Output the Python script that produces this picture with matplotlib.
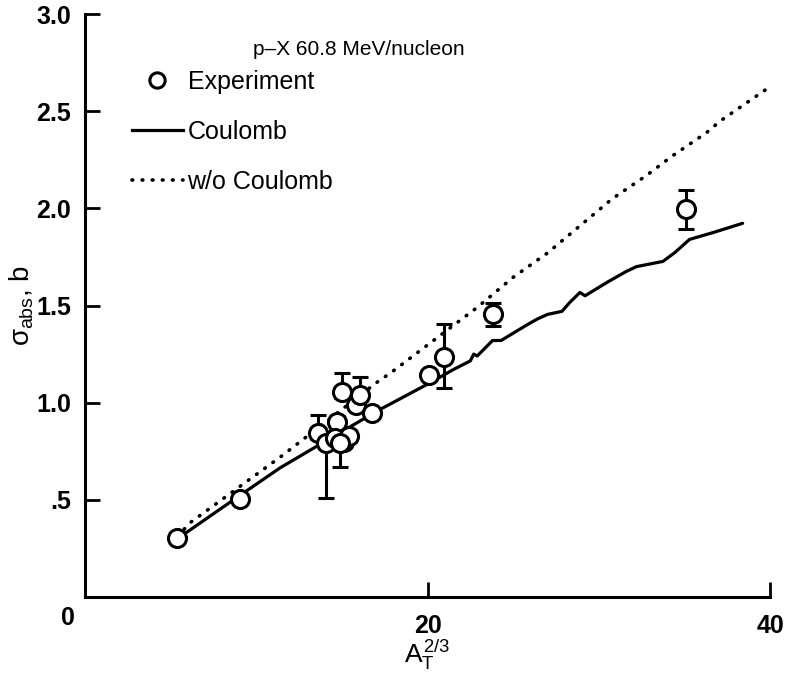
import numpy as np
import matplotlib
matplotlib.use("Agg")
import matplotlib.pyplot as plt
from matplotlib.lines import Line2D

# -----------------------------
# Data
# -----------------------------
exp_x = [5.37, 9.05, 13.6, 14.1, 14.7, 15.0, 15.8, 16.06, 16.76,
         14.6, 15.1, 15.4, 14.9, 20.1, 20.96, 23.8, 35.1]
exp_y = [0.305, 0.505, 0.845, 0.79, 0.90, 1.055, 0.99, 1.04, 0.948,
         0.82, 0.80, 0.83, 0.79, 1.14, 1.237, 1.455, 1.995]
err_lo = [0.02, 0.02, 0.03, 0.28, 0.03, 0.03, 0.03, 0.03, 0.02,
          0.03, 0.03, 0.03, 0.12, 0.02, 0.16, 0.06, 0.10]
err_hi = [0.02, 0.02, 0.09, 0.05, 0.03, 0.10, 0.03, 0.09, 0.02,
          0.03, 0.03, 0.03, 0.03, 0.02, 0.17, 0.06, 0.10]

coul_x = [5.4, 9.0, 11.4, 14.0, 17.2, 18.4, 20.1, 21.5, 22.5, 22.7, 22.9,
          23.8, 24.3, 25.8, 26.4, 27.0, 27.85, 28.3, 28.9, 29.2, 30.5,
          31.6, 32.2, 33.75, 34.45, 35.3, 36.7, 38.4]
coul_y = [0.30, 0.52, 0.665, 0.80, 0.964, 1.02, 1.10, 1.17, 1.215, 1.25, 1.24,
          1.32, 1.32, 1.40, 1.43, 1.454, 1.47, 1.515, 1.567, 1.55, 1.62,
          1.675, 1.70, 1.727, 1.773, 1.84, 1.876, 1.923]

nocoul_x = [5.4, 6.1, 11.4, 17.2, 17.8, 21.7, 22.9, 25.0, 27.0, 28.9,
            30.8, 32.8, 34.3, 36.3, 37.1, 39.9]
nocoul_y = [0.31, 0.38, 0.72, 1.115, 1.15, 1.41, 1.49, 1.645, 1.77, 1.91,
            2.05, 2.17, 2.27, 2.39, 2.45, 2.62]

yticks = [0.5, 1.0, 1.5, 2.0, 2.5, 3.0]
ytick_labels = [".5", "1.0", "1.5", "2.0", "2.5", "3.0"]
xticks = [20, 40]
xtick_labels = ["20", "40"]

# -----------------------------
# Style
# -----------------------------
plt.rcParams["font.family"] = ["Liberation Sans", "DejaVu Sans"]
plt.rcParams["mathtext.fontset"] = "custom"
plt.rcParams["mathtext.rm"] = "Liberation Sans"
plt.rcParams["mathtext.it"] = "Liberation Sans"
plt.rcParams["mathtext.bf"] = "Liberation Sans:bold"

dots = (0, (0.2, 2.6))

fig = plt.figure(figsize=(7.9, 6.83), dpi=100)
ax = fig.add_axes([0.1076, 0.1259, 0.8671, 0.8536])

ax.plot(coul_x, coul_y, color="black", lw=2.3, solid_capstyle="round")
ax.plot(nocoul_x, nocoul_y, color="black", lw=2.6, linestyle=dots,
        dash_capstyle="round")
ax.errorbar(exp_x, exp_y, yerr=[err_lo, err_hi], fmt="o", ms=13, mfc="white",
            mec="black", mew=2.2, ecolor="black", elinewidth=2.2,
            capsize=6, capthick=2.2, zorder=3)

ax.set_xlim(0, 40)
ax.set_ylim(0, 3.0)
ax.set_xticks(xticks)
ax.set_xticklabels(xtick_labels)
ax.set_yticks(yticks)
ax.set_yticklabels(ytick_labels)
ax.tick_params(direction="in", length=11, width=2, labelsize=18)
ax.tick_params(axis="y", pad=10)
ax.tick_params(axis="x", pad=12)
for lab in ax.get_xticklabels() + ax.get_yticklabels():
    lab.set_fontweight("bold")

ax.spines["top"].set_visible(False)
ax.spines["right"].set_visible(False)
ax.spines["left"].set_linewidth(2.2)
ax.spines["bottom"].set_linewidth(2.2)

# corner "0"
ax.text(-1.0, -0.11, "0", fontsize=18, fontweight="bold",
        ha="center", va="center", clip_on=False)

ax.set_xlabel(r"$A_T^{2/3}$", fontsize=19, labelpad=0)
ax.set_ylabel(r"$\sigma_{abs}$, b", fontsize=20, labelpad=0)

ax.text(9.8, 2.815, "p\u2013X 60.8 MeV/nucleon", fontsize=15,
        ha="left", va="center")

handles = [
    Line2D([], [], marker="o", ls="none", ms=11, mfc="white", mec="black", mew=2.2),
    Line2D([], [], color="black", lw=2.3),
    Line2D([], [], color="black", lw=2.6, linestyle=dots, dash_capstyle="round"),
]
ax.legend(handles, ["Experiment", "Coulomb", "w/o Coulomb"],
          loc="upper left", bbox_to_anchor=(0.05, 0.926), frameon=False,
          fontsize=18, handlelength=2.05, handletextpad=0.18,
          labelspacing=1.05, borderpad=0)

fig.savefig("out.png", dpi=100)
